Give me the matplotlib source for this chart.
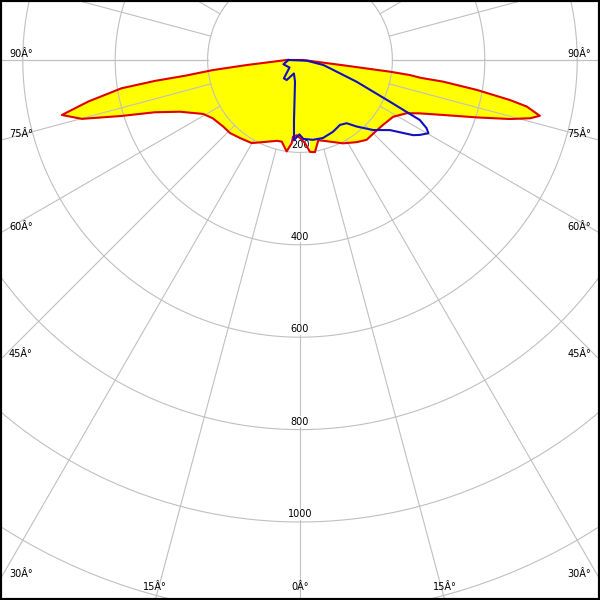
import numpy as np
import matplotlib
matplotlib.use('Agg')
import matplotlib.pyplot as plt

# C0-C180 plane (red, filled yellow): gamma angle in degrees, intensity in cd
red_gamma = [-90, -84.6, -83.4, -82.2, -81.8, -81.0, -78.9, -77.0, -74.9, -72.6,
             -70.2, -66.7, -60.9, -56.2, -49.1, -43.8, -37.5, -30.2, -24.3, -16.0,
             -12.6, -8.3, -5.7, -5.2, -2.5, 0, 3.4, 6.2, 9.2, 12.9,
             18.2, 27.3, 34.6, 39.8, 46.0, 51.9, 58.6, 63.5, 66.0, 69.0,
             72.0, 74.3, 75.8, 76.9, 78.4, 79.2, 80.4, 81.4, 81.6, 82.2,
             82.6, 83.0, 90]
red_cd = [29, 116, 190, 251, 317, 391, 467, 529, 489, 405,
          334, 283, 240, 227, 220, 219, 213, 208, 195, 182,
          181, 200, 181, 167, 163, 169, 180, 200, 202, 178,
          185, 203, 216, 225, 225, 228, 236, 258, 284, 332,
          402, 472, 514, 533, 501, 463, 388, 313, 263, 240,
          196, 98, 7]

# C90-C270 plane (blue)
blue_gamma = [-90, -75.6, -54.3, -41.2, -33.6, -24.3, -13.0, -7.8, -5.7, -4.3,
              -0.5, 2.4, 9.2, 16.4, 24.7, 31.6, 36.4, 40.4, 46.2, 52.1,
              56.4, 58.0, 60.3, 61.7, 63.4, 65.1, 69.0, 77.9, 84.0]
blue_cd = [25, 37, 28, 53, 52, 32, 48, 87, 131, 174,
           161, 171, 175, 176, 171, 165, 170, 189, 219, 247,
           294, 306, 320, 311, 290, 215, 131, 52, 15]

ring_values = [200, 400, 600, 800, 1000, 1200, 1400]
ring_labels = ['200', '400', '600', '800', '1000']  # the outer rings fall below the frame
spoke_angles = list(range(0, 360, 15))
side_angles = [90, 75, 60, 45, 30]
bottom_angles = [-15, 0, 15]


def to_xy(gamma, cd):
    g = np.radians(np.asarray(gamma, dtype=float))
    r = np.asarray(cd, dtype=float)
    return r * np.sin(g), -r * np.cos(g)


scale = 0.462  # px per cd
xmax = 300 / scale
ytop = 60 / scale
ybot = -540 / scale

fig = plt.figure(figsize=(6, 6), dpi=100)
ax = fig.add_axes([0, 0, 1, 1])
ax.set_xlim(-xmax, xmax)
ax.set_ylim(ybot, ytop)
ax.set_aspect('equal')
ax.set_xticks([])
ax.set_yticks([])
for s in ax.spines.values():
    s.set_color('black')
    s.set_linewidth(3)

grid_col = '#c0c0c0'
t = np.linspace(0, 2 * np.pi, 721)
for rv in ring_values:
    ax.plot(rv * np.cos(t), rv * np.sin(t), color=grid_col, lw=0.8, zorder=2)
for a in spoke_angles:
    g = np.radians(a)
    ax.plot([200 * np.sin(g), 3000 * np.sin(g)], [-200 * np.cos(g), -3000 * np.cos(g)],
            color=grid_col, lw=0.8, zorder=2)
ax.plot([-3000, -200], [0, 0], color=grid_col, lw=0.8, zorder=2)
ax.plot([200, 3000], [0, 0], color=grid_col, lw=0.8, zorder=2)

rx, ry = to_xy(red_gamma, red_cd)
ax.fill(rx, ry, color='#ffff00', zorder=1)
ax.plot(np.append(rx, rx[0]), np.append(ry, ry[0]), color='#e00000', lw=1.5, zorder=4)

bx, by = to_xy(blue_gamma, blue_cd)
ax.plot(np.append(bx, bx[0]), np.append(by, by[0]), color='#1010c0', lw=1.5, zorder=5)

for rv, lab in zip(ring_values, ring_labels):
    ax.text(0, -rv + 17, lab, ha='center', va='center', fontsize=7, color='black',
            zorder=3, bbox=dict(facecolor='white', edgecolor='none', pad=0.3))

for a in side_angles:
    g = np.radians(a)
    y = -xmax * np.cos(g) / np.sin(g)
    ax.annotate(f'{a}Â°', (-xmax, y), xytext=(9, 6), textcoords='offset pixels',
                ha='left', va='center', fontsize=7)
    ax.annotate(f'{a}Â°', (xmax, y), xytext=(-9, 6), textcoords='offset pixels',
                ha='right', va='center', fontsize=7)
for a in bottom_angles:
    x = -ybot * np.tan(np.radians(a))
    ax.annotate(f'{abs(a)}Â°', (x, ybot), xytext=(0, 13), textcoords='offset pixels',
                ha='center', va='center', fontsize=7)

fig.savefig('out.png', dpi=100)
